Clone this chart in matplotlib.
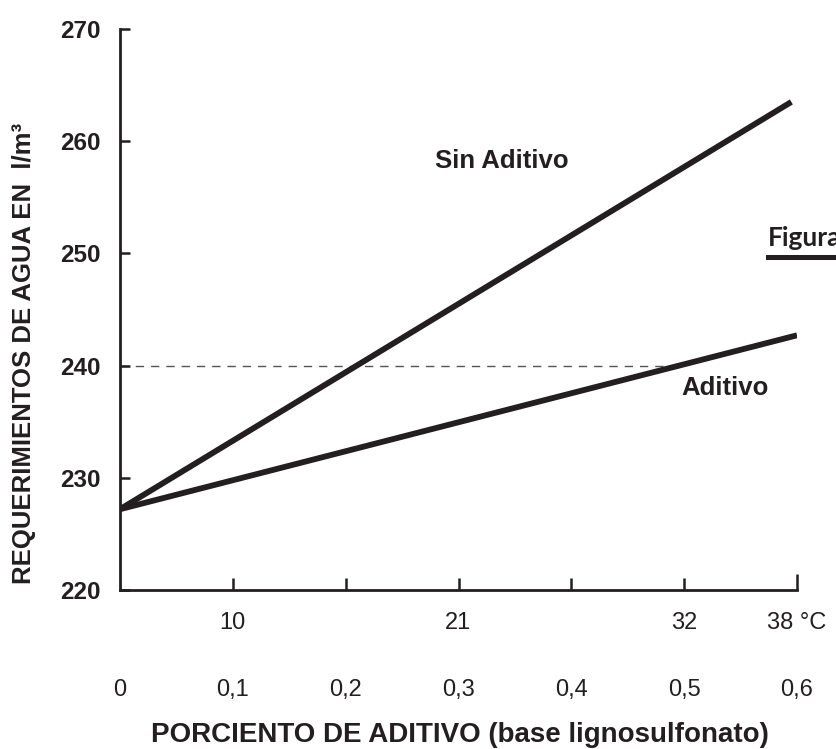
import numpy as np
import matplotlib
matplotlib.use("Agg")
import matplotlib.pyplot as plt
from matplotlib.lines import Line2D

# data
pct_ticks = [0, 0.1, 0.2, 0.3, 0.4, 0.5, 0.6]
pct_labels = ["0", "0,1", "0,2", "0,3", "0,4", "0,5", "0,6"]
temp_ticks = [0.1, 0.2, 0.3, 0.4, 0.5, 0.6]
temp_labels = ["10", "", "21", "", "32", "38 °C"]
y_ticks = [220, 230, 240, 250, 260, 270]

sin_x = [0, 0.595]
sin_y = [227.2, 263.5]
adit_x = [0, 0.6]
adit_y = [227.2, 242.7]
ref_level = 240

ink = "#231f20"
sans = ["Liberation Sans", "DejaVu Sans"]
narrow = ["Liberation Sans Narrow", "DejaVu Sans Condensed", "Liberation Sans"]

W, H = 837, 749
fig = plt.figure(figsize=(W / 100, H / 100), dpi=100)
ax = fig.add_axes([120 / W, (H - 590) / H, 677 / W, 561 / H])

# dashed reference line up to where it meets the "Aditivo" line
x_cross = np.interp(ref_level, adit_y, adit_x)
ax.plot([0, x_cross], [ref_level, ref_level], color="#555555", lw=1.0,
        dashes=(6, 5), zorder=1)

ax.plot(sin_x, sin_y, color=ink, lw=4.2, solid_capstyle="butt", zorder=3)
ax.plot(adit_x, adit_y, color=ink, lw=4.2, solid_capstyle="butt", zorder=3)

ax.set_xlim(0, 0.6)
ax.set_ylim(220, 270)

for s in ["top", "right"]:
    ax.spines[s].set_visible(False)
for s in ["left", "bottom"]:
    ax.spines[s].set_linewidth(2.0)
    ax.spines[s].set_color(ink)

ax.set_yticks(y_ticks)
ax.set_yticklabels([str(v) for v in y_ticks], fontfamily=sans,
                   fontweight="bold", fontsize=17.5, color=ink)
ax.tick_params(axis="y", direction="in", length=7.5, width=1.8,
               color=ink, pad=14)

ax.set_xticks(temp_ticks)
ax.set_xticklabels(temp_labels, fontfamily=narrow, fontsize=17, color=ink)
ax.tick_params(axis="x", direction="in", length=8.5, width=1.8,
               color=ink, pad=16)
# last tick at 0,6 is a bit taller
ax.xaxis.get_major_ticks()[-1].tick1line.set_markersize(11.5)

# second row of x labels: additive percentage
sec = ax.secondary_xaxis("bottom")
sec.set_xticks(pct_ticks)
sec.set_xticklabels(pct_labels, fontfamily=narrow, fontsize=17, color=ink)
sec.tick_params(axis="x", length=0, pad=64)
sec.spines["bottom"].set_visible(False)

ax.text(0.338, 258.2, "Sin Aditivo", ha="center", va="center",
        fontfamily=sans, fontweight="bold", fontsize=18.5, color=ink)
ax.text(0.536, 238.0, "Aditivo", ha="center", va="center",
        fontfamily=sans, fontweight="bold", fontsize=18.5, color=ink)

fig.text(24 / W, (H - 353) / H, "REQUERIMIENTOS DE AGUA EN  l/m³",
         rotation=90, ha="center", va="center", fontfamily=sans,
         fontweight="bold", fontsize=18.5, color=ink)
fig.text(460 / W, (H - 735) / H,
         "PORCIENTO DE ADITIVO (base lignosulfonato)",
         ha="center", va="center", fontfamily=narrow, fontweight="bold",
         fontsize=20, color=ink)

# clipped caption at the right edge
fig.text(768 / W, (H - 246) / H, "Figura", ha="left", va="baseline",
         fontfamily=["Lato", "DejaVu Sans"], fontweight="bold",
         fontsize=19, color=ink)
fig.add_artist(Line2D([768 / W, 1.0], [(H - 257) / H] * 2,
                      transform=fig.transFigure, color=ink, lw=3.6))

fig.savefig("out.png", dpi=100)
